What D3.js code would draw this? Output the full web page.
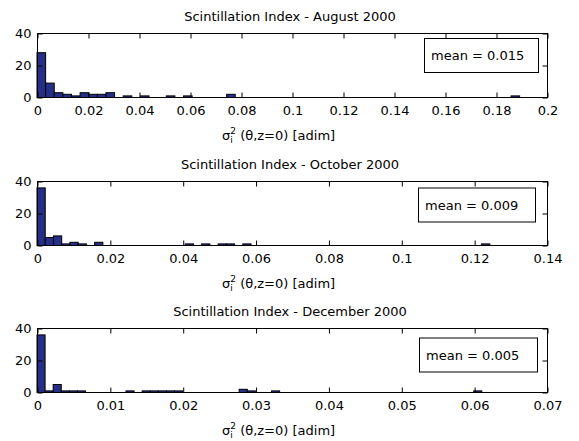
<!DOCTYPE html>
<html><head><meta charset="utf-8">
<script src="https://cdn.jsdelivr.net/npm/d3@7"></script>
<style>
body{margin:0;background:#fff}
svg text{font-family:"DejaVu Sans",sans-serif;font-size:13px;fill:#000}
</style>
</head><body><svg id="c" width="579" height="441"></svg>
<script>
// ---- data ----
const titles = ["Scintillation Index - August 2000", "Scintillation Index - October 2000", "Scintillation Index - December 2000"];
const meanLabels = ["mean = 0.015", "mean = 0.009", "mean = 0.005"];

const augBinWidth = 0.00338;
const augBins   = [0, 1, 2, 3, 4, 5, 6, 7, 8, 10, 12, 15, 17, 22, 55];
const augCounts = [28, 9, 3, 2, 1, 3, 2, 2, 3, 1, 1, 1, 1, 2, 1];
const augTicks = [0, 0.02, 0.04, 0.06, 0.08, 0.1, 0.12, 0.14, 0.16, 0.18, 0.2];
const augTickLabels = ["0", "0.02", "0.04", "0.06", "0.08", "0.1", "0.12", "0.14", "0.16", "0.18", "0.2"];

const octBinWidth = 0.00226;
const octBins   = [0, 1, 2, 3, 4, 5, 7, 18, 20, 22, 23, 25, 54];
const octCounts = [36, 5, 6, 1, 2, 1, 2, 1, 1, 1, 1, 1, 1];
const octTicks = [0, 0.02, 0.04, 0.06, 0.08, 0.1, 0.12, 0.14];
const octTickLabels = ["0", "0.02", "0.04", "0.06", "0.08", "0.1", "0.12", "0.14"];

const decBinWidth = 0.00111;
const decBins   = [0, 1, 2, 3, 4, 5, 11, 13, 14, 15, 16, 17, 25, 26, 29, 54];
const decCounts = [36, 1, 5, 1, 1, 1, 1, 1, 1, 1, 1, 1, 2, 1, 1, 1];
const decTicks = [0, 0.01, 0.02, 0.03, 0.04, 0.05, 0.06, 0.07];
const decTickLabels = ["0", "0.01", "0.02", "0.03", "0.04", "0.05", "0.06", "0.07"];

const yTicks = [0, 20, 40];
const yTickLabels = ["0", "20", "40"];

// ---- layout ----
const L = 37, R = 547, H = 64;
const panels = [
  {title: titles[0], mean: meanLabels[0], bw: augBinWidth, bins: augBins, counts: augCounts, ticks: augTicks, labels: augTickLabels,
   top: 33, leg: {x: 424, y: 38, w: 114, h: 34}},
  {title: titles[1], mean: meanLabels[1], bw: octBinWidth, bins: octBins, counts: octCounts, ticks: octTicks, labels: octTickLabels,
   top: 181, leg: {x: 418, y: 187.5, w: 117, h: 34}},
  {title: titles[2], mean: meanLabels[2], bw: decBinWidth, bins: decBins, counts: decCounts, ticks: decTicks, labels: decTickLabels,
   top: 328, leg: {x: 419, y: 337.5, w: 118, h: 34}}
];

const svg = d3.select("#c");

panels.forEach(p => {
  const xmax = p.ticks[p.ticks.length - 1];
  const x = d3.scaleLinear().domain([0, xmax]).range([L, R]);
  const y = d3.scaleLinear().domain([0, 40]).range([p.top + H + 0.5, p.top + 0.5]);
  const g = svg.append("g");

  // bars
  const data = p.bins.map((b, i) => ({b, c: p.counts[i]}));
  g.selectAll("rect.bar").data(data).join("rect")
    .attr("class", "bar")
    .attr("x", d => x(d.b * p.bw))
    .attr("width", d => x((d.b + 1) * p.bw) - x(d.b * p.bw))
    .attr("y", d => y(d.c))
    .attr("height", d => y(0) - y(d.c))
    .attr("fill", "#262f87")
    .attr("stroke", "#000")
    .attr("stroke-width", 1);

  // axes
  const xb = d3.axisBottom(x).tickValues(p.ticks).tickFormat((d, i) => p.labels[i]).tickSizeInner(-5).tickSizeOuter(0).tickPadding(8);
  const xt = d3.axisTop(x).tickValues(p.ticks).tickFormat("").tickSizeInner(-5).tickSizeOuter(0);
  const yl = d3.axisLeft(y).tickValues(yTicks).tickFormat((d, i) => yTickLabels[i]).tickSizeInner(-5).tickSizeOuter(0).tickPadding(6);
  const yr = d3.axisRight(y).tickValues(yTicks).tickFormat("").tickSizeInner(-5).tickSizeOuter(0);

  const gx = g.append("g").attr("transform", `translate(0.5,${p.top + H + 0.5})`).call(xb);
  const gxt = g.append("g").attr("transform", `translate(0.5,${p.top + 0.5})`).call(xt);
  const gyl = g.append("g").attr("transform", `translate(${L + 0.5},0)`).call(yl);
  const gyr = g.append("g").attr("transform", `translate(${R + 0.5},0)`).call(yr);
  [gx, gxt, gyl, gyr].forEach(a => {
    a.select(".domain").remove();
    a.attr("font-family", null).attr("font-size", null);
    a.selectAll("line").attr("stroke", "#000");
  });

  // frame
  g.append("rect").attr("x", L + 0.5).attr("y", p.top + 0.5).attr("width", R - L).attr("height", H)
    .attr("fill", "none").attr("stroke", "#000").attr("stroke-width", 1);

  // title
  g.append("text").attr("x", (L + R) / 2 - 2).attr("y", p.top - 12).attr("text-anchor", "middle").text(p.title);

  // x label: sigma_i^2 (theta,z=0) [adim]
  const xl = g.append("text").attr("x", 222).attr("y", p.top + H + 43);
  xl.append("tspan").text("σ");
  xl.append("tspan").attr("font-size", "9px").attr("dy", 3).text("i");
  xl.append("tspan").attr("font-size", "9px").attr("dx", -2.5).attr("dy", -9).text("2");
  xl.append("tspan").attr("dy", 6).text(" (θ,z=0) [adim]");

  // legend box
  g.append("rect").attr("x", p.leg.x + 0.5).attr("y", p.leg.y + 0.5).attr("width", p.leg.w).attr("height", p.leg.h)
    .attr("fill", "#fff").attr("stroke", "#000").attr("stroke-width", 1);
  g.append("text").attr("x", p.leg.x + 7).attr("y", p.leg.y + 22).text(p.mean);
});
</script>
</body></html>
